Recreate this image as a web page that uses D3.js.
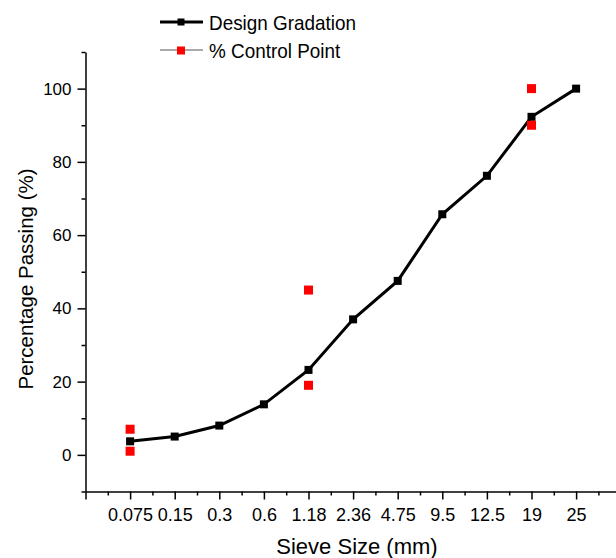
<!DOCTYPE html>
<meta charset="utf-8">
<style>
  body { margin: 0; background: #fff; }
  svg { font-family: "Liberation Sans", Arial, sans-serif; }
  .axis path, .axis line { stroke: #000; stroke-width: 1.5px; }
  .axis text { fill: #000; }
</style>
<body>
<svg width="616" height="558"></svg>
<script src="https://d3js.org/d3.v7.min.js"></script>
<script>

var sieves = ["0.075", "0.15", "0.3", "0.6", "1.18", "2.36", "4.75", "9.5", "12.5", "19", "25"];
var gradation = [3.7, 5, 8, 13.8, 23.2, 37, 47.5, 65.7, 76.2, 92.3, 100];
// control points: [sieve, lower/upper limit]
var controlSieves = ["0.075", "0.075", "1.18", "1.18", "19", "19"];
var controlValues = [7, 1, 45, 19, 100, 90];
var yTicks = [0, 20, 40, 60, 80, 100];

var svg = d3.select("svg");

// categories sit at 1..11, axis runs 0..12 (past the right edge)
var x = d3.scaleLinear().domain([0, 12]).range([85.5, 620.7]);
var y = d3.scaleLinear().domain([-10, 110]).range([491.5, 52]);

function xi(s) { return x(sieves.indexOf(s) + 1); }

// minor ticks
var yMinor = d3.range(-10, 111, 10).filter(function(d) { return yTicks.indexOf(d) < 0; });
svg.append("g").attr("class", "axis")
    .attr("transform", "translate(" + x(0) + ",0)")
    .call(d3.axisLeft(y).tickValues(yMinor).tickSize(4).tickFormat("").tickSizeOuter(0))
    .select(".domain").remove();
var xMinor = d3.range(0.5, 12, 1);
svg.append("g").attr("class", "axis")
    .attr("transform", "translate(0," + y(-10) + ")")
    .call(d3.axisBottom(x).tickValues(xMinor).tickSize(4).tickFormat("").tickSizeOuter(0))
    .select(".domain").remove();

// major axes
svg.append("g").attr("class", "axis")
    .attr("transform", "translate(" + x(0) + ",0)")
    .call(d3.axisLeft(y).tickValues(yTicks).tickSize(8).tickPadding(6).tickSizeOuter(0))
    .selectAll("text").attr("font-size", 17);

svg.append("g").attr("class", "axis")
    .attr("transform", "translate(0," + y(-10) + ")")
    .call(d3.axisBottom(x).tickValues(d3.range(0, 13)).tickSize(8).tickPadding(9).tickSizeOuter(0)
        .tickFormat(function(d) { return sieves[d - 1] || ""; }))
    .selectAll("text").attr("font-size", 18);

// axis titles
svg.append("text")
    .attr("x", 357).attr("y", 554)
    .attr("text-anchor", "middle")
    .attr("font-size", 22)
    .text("Sieve Size (mm)");
svg.append("text")
    .attr("transform", "translate(33,279) rotate(-90)")
    .attr("text-anchor", "middle")
    .attr("font-size", 20.5)
    .text("Percentage Passing (%)");

// design gradation line
var line = d3.line()
    .x(function(d, i) { return x(i + 1); })
    .y(function(d) { return y(d); });
svg.append("path")
    .datum(gradation)
    .attr("fill", "none")
    .attr("stroke", "#000")
    .attr("stroke-width", 3)
    .attr("d", line);

svg.append("g").selectAll("rect")
    .data(gradation)
    .enter().append("rect")
    .attr("x", function(d, i) { return x(i + 1) - 4; })
    .attr("y", function(d) { return y(d) - 4; })
    .attr("width", 8).attr("height", 8)
    .attr("fill", "#000");

// control points
svg.append("g").selectAll("rect")
    .data(controlValues)
    .enter().append("rect")
    .attr("x", function(d, i) { return xi(controlSieves[i]) - 4.5; })
    .attr("y", function(d) { return y(d) - 4.5; })
    .attr("width", 9).attr("height", 9)
    .attr("fill", "#ff0000");

// legend (text a little condensed, like the original)
var legend = svg.append("g");
legend.append("line")
    .attr("x1", 160).attr("x2", 203).attr("y1", 22).attr("y2", 22)
    .attr("stroke", "#000").attr("stroke-width", 3);
legend.append("rect")
    .attr("x", 177.5).attr("y", 18.5).attr("width", 7).attr("height", 7).attr("fill", "#000");
legend.append("text")
    .attr("transform", "translate(209,29.5) scale(0.9,1)")
    .attr("font-size", 21)
    .text("Design Gradation");
legend.append("line")
    .attr("x1", 160).attr("x2", 203).attr("y1", 50).attr("y2", 50)
    .attr("stroke", "#555").attr("stroke-width", 1);
legend.append("rect")
    .attr("x", 177).attr("y", 46.5).attr("width", 8).attr("height", 8).attr("fill", "#ff0000");
legend.append("text")
    .attr("transform", "translate(209,57.5) scale(0.9,1)")
    .attr("font-size", 21)
    .text("% Control Point");

</script>
</body>
